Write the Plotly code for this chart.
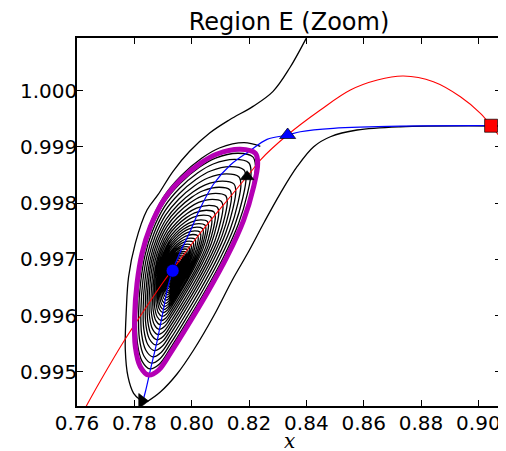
import plotly.graph_objects as go

# ---------------- data ----------------
red_x = [0.7625, 0.76813, 0.77661, 0.78094, 0.79011, 0.79325, 0.80302, 0.81454, 0.82117,
         0.82395, 0.83338, 0.84489, 0.85536, 0.86478, 0.87385, 0.88432, 0.89374, 0.90072,
         0.90445, 0.90794, 0.90944]
red_y = [0.99432, 0.994834, 0.995564, 0.995902, 0.996596, 0.996810, 0.997468, 0.998180, 0.998589,
         0.998767, 0.999212, 0.999657, 1.000012, 1.000190, 1.000262, 1.000160, 0.999893, 0.999598,
         0.999377, 0.999149, 0.999034]

blue_x = [0.90944, 0.90794, 0.87281, 0.84943, 0.83791, 0.83348, 0.82629, 0.82047, 0.81349,
          0.80766, 0.80302, 0.79953, 0.79604, 0.79336, 0.79186, 0.79011, 0.78802, 0.78558,
          0.78383, 0.78268]
blue_y = [0.999377, 0.999377, 0.999370, 0.999331, 0.999270, 0.999212, 0.999135, 0.998936, 0.998678,
          0.998340, 0.997913, 0.997504, 0.997130, 0.996797, 0.996543, 0.996098, 0.995564, 0.995030,
          0.994639, 0.994425]

cycle_x = [0.82221, 0.81698, 0.80885, 0.80302, 0.79604, 0.79022, 0.78558, 0.78268, 0.78094,
           0.78010, 0.78034, 0.78209, 0.78498, 0.78847, 0.79255, 0.79838, 0.80536, 0.81234,
           0.81813, 0.82162, 0.82302]
cycle_y = [0.998886, 0.998957, 0.998874, 0.998708, 0.998411, 0.998055, 0.997580, 0.997107, 0.996573,
           0.995978, 0.995445, 0.995089, 0.994941, 0.995030, 0.995327, 0.995801, 0.996395, 0.997046,
           0.997699, 0.998292, 0.998708]

traj_left_x = [0.84140, 0.84001, 0.83418, 0.82839, 0.82141, 0.81325, 0.80627, 0.79929, 0.79350,
               0.78826, 0.78442, 0.78034, 0.77800, 0.77720, 0.77685, 0.77779, 0.77975, 0.78209]
traj_left_y = [1.00108, 1.000938, 1.000404, 0.999989, 0.999722, 0.999484, 0.999247, 0.998922, 0.998566,
               0.998149, 0.997877, 0.997285, 0.996690, 0.996098, 0.995386, 0.994911, 0.994615, 0.994496]

traj_right_x = [0.90944, 0.87281, 0.85770, 0.84838, 0.84256, 0.83676, 0.83093, 0.82535, 0.81977,
                0.81419, 0.80766, 0.80068, 0.79489, 0.78906, 0.78442]
traj_right_y = [0.999372, 0.999359, 0.999301, 0.999181, 0.999004, 0.998648, 0.998174, 0.997664, 0.997130,
                0.996632, 0.995991, 0.995386, 0.994959, 0.994639, 0.994466]

focus_x, focus_y = 0.79336, 0.996797
saddle_x, saddle_y = 0.83348, 0.999212
node_x, node_y = 0.90445, 0.999377
arrow_up_x, arrow_up_y = 0.81932, 0.99847
arrow_right_x, arrow_right_y = 0.78268, 0.994478

# relative sizes of the successive spiral loops (read along focus -> cycle bottom)
spiral_scales = [1.06, 0.97, 0.92, 0.86, 0.80, 0.74, 0.69, 0.64, 0.59, 0.54, 0.50, 0.46,
                 0.42, 0.39, 0.36, 0.33, 0.30, 0.27, 0.245, 0.22, 0.20, 0.18, 0.16, 0.145,
                 0.13, 0.115, 0.10, 0.085, 0.07, 0.06, 0.05, 0.04, 0.03, 0.02, 0.01]

x_ticks = [0.76, 0.78, 0.80, 0.82, 0.84, 0.86, 0.88, 0.90]
y_ticks = [0.995, 0.996, 0.997, 0.998, 0.999, 1.000]
x_range = [0.76, 0.9079]
y_range = [0.99439, 1.000938]

# ---------------- build spiral from cycle shape ----------------
sp_x, sp_y = [], []
n = len(cycle_x)
for k in range(len(spiral_scales) - 1):
    s0, s1 = spiral_scales[k], spiral_scales[k + 1]
    for j in range(n):
        t = j / n
        s = s0 + (s1 - s0) * t
        sp_x.append(focus_x + s * (cycle_x[j] - focus_x))
        sp_y.append(focus_y + s * (cycle_y[j] - focus_y))
sp_x.append(focus_x)
sp_y.append(focus_y)

fig = go.Figure()

def line(x, y, color, width, shape="spline"):
    fig.add_trace(go.Scatter(x=x, y=y, mode="lines",
                             line=dict(color=color, width=width, shape=shape, smoothing=1.0),
                             hoverinfo="skip", showlegend=False))

line(sp_x, sp_y, "black", 1.3)
line(traj_left_x, traj_left_y, "black", 1.3)
line(traj_right_x, traj_right_y, "black", 1.3)
line(red_x, red_y, "#ff0000", 1.1)
line(blue_x, blue_y, "#0000ff", 1.2)
line(cycle_x + cycle_x[:1], cycle_y + cycle_y[:1], "#b400b4", 5)

def marker(x, y, symbol, color, size, clip=True):
    fig.add_trace(go.Scatter(x=[x], y=[y], mode="markers", cliponaxis=clip,
                             marker=dict(symbol=symbol, color=color, size=size,
                                         line=dict(color="black", width=0.7)),
                             hoverinfo="skip", showlegend=False))

marker(focus_x, focus_y, "circle", "#0000ff", 13)
marker(saddle_x, saddle_y, "triangle-up", "#0000ff", 14)
marker(node_x, node_y, "square", "#ff0000", 13, clip=False)
marker(arrow_up_x, arrow_up_y, "triangle-up", "black", 12)
marker(arrow_right_x, arrow_right_y, "triangle-right", "black", 13)

axis_common = dict(showgrid=False, zeroline=False, showline=True, linecolor="black",
                   linewidth=1.5, mirror="ticks", ticks="inside", ticklen=6, tickwidth=1,
                   tickcolor="black", automargin=False,
                   tickfont=dict(family="DejaVu Sans", size=20, color="black"))

# the page body has an 8px default margin, so the figure is sized to fit the window
fig.update_layout(
    width=498, height=443,
    margin=dict(l=69, r=5, t=30, b=45),
    plot_bgcolor="white", paper_bgcolor="white",
    title=dict(text="Region E (Zoom)", x=0.5, xref="paper", xanchor="center",
               y=1 - 13.7 / 443, yref="container", yanchor="middle",
               font=dict(family="DejaVu Sans", size=24, color="black")),
    xaxis=dict(range=x_range, tickvals=x_ticks, tickformat=".2f", ticklabelstandoff=-2, **axis_common),
    yaxis=dict(range=y_range, tickvals=y_ticks, tickformat=".3f", ticklabelstandoff=-6, **axis_common),
    annotations=[dict(text="<i>x</i>", x=0.5, xref="paper", y=-0.094, yref="paper",
                      xanchor="center", yanchor="middle", showarrow=False,
                      font=dict(family="DejaVu Serif", size=20, color="black"))],
)

fig.write_html("out.html")
